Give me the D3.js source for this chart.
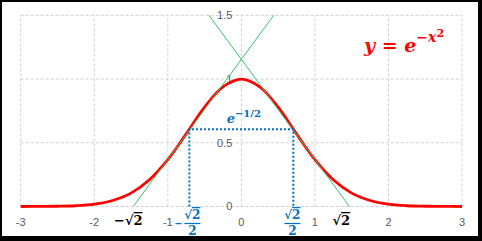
<!DOCTYPE html>
<html lang="en">
<head>
<meta charset="utf-8">
<title>y = e^(-x^2)</title>
<script src="https://d3js.org/d3.v7.min.js"></script>
<style type="text/css">
  body { margin: 0; background: #fff; }
  .grid { stroke: #d3cdd3; stroke-width: 1; stroke-dasharray: 3,2; }
  .tick { font-family: "Liberation Sans", Arial, sans-serif; font-size: 11px; fill: #595959; }
  .curve { fill: none; stroke: #ff0000; stroke-width: 2.8px; }
  .tangent { fill: none; stroke: #3cc070; stroke-width: 1px; }
  .guide { fill: none; stroke: #0070c0; stroke-width: 2px; stroke-dasharray: 2,2; }
  .math { font-family: "DejaVu Serif", "Liberation Serif", serif; font-weight: bold; }
</style>
</head>
<body>
<script type="text/javascript">

// data
var xTicks = [-3, -2, -1, 0, 1, 2, 3];
var yTicks = [0, 0.5, 1, 1.5];
var yTickLabels = ["0", "0.5", "1", "1.5"];

// red curve, values
var curveX = [-3, -2.75, -2.5, -2.25, -2, -1.75, -1.5, -1.25, -1, -0.75, -0.5, -0.25,
              0, 0.25, 0.5, 0.75, 1, 1.25, 1.5, 1.75, 2, 2.25, 2.5, 2.75, 3];
var curveY = [0, 0.001, 0.002, 0.006, 0.018, 0.047, 0.105, 0.21, 0.368, 0.57, 0.779, 0.939,
              1, 0.939, 0.779, 0.57, 0.368, 0.21, 0.105, 0.047, 0.018, 0.006, 0.002, 0.001, 0];

// green lines (tangents at the inflection points)
var tangentLeft = [[-1.47, 0], [0.44, 1.5]];
var tangentRight = [[1.47, 0], [-0.44, 1.5]];

// blue dotted box at x = ±√2/2, y = e^-1/2
var guideX = [-0.707, -0.707, 0.707, 0.707];
var guideY = [0, 0.607, 0.607, 0];

var w = 482, h = 241;

var svg = d3.select("body").append("svg")
  .attr("width", w)
  .attr("height", h);

// frame
svg.append("rect").attr("width", w).attr("height", h).attr("fill", "#000");
svg.append("rect").attr("x", 2).attr("y", 2).attr("width", 476).attr("height", 234).attr("fill", "#fff");

var xScale = d3.scaleLinear().domain([-3, 3]).range([20.7, 462]);
var yScale = d3.scaleLinear().domain([0, 1.5]).range([206.5, 15.3]);

// grid
svg.selectAll("line.vgrid").data(xTicks).enter().append("line")
  .attr("class", "grid")
  .attr("x1", d => xScale(d)).attr("x2", d => xScale(d))
  .attr("y1", yScale(0)).attr("y2", yScale(1.5));

svg.selectAll("line.hgrid").data(yTicks).enter().append("line")
  .attr("class", "grid")
  .attr("x1", xScale(-3)).attr("x2", xScale(3))
  .attr("y1", d => yScale(d)).attr("y2", d => yScale(d));

// tick labels
svg.selectAll("text.ylab").data(yTicks).enter().append("text")
  .attr("class", "tick")
  .attr("x", xScale(0) - 9)
  .attr("y", d => yScale(d))
  .attr("dy", "0.36em")
  .attr("text-anchor", "end")
  .text((d, i) => yTickLabels[i]);

svg.selectAll("text.xlab").data(xTicks).enter().append("text")
  .attr("class", "tick")
  .attr("x", d => xScale(d))
  .attr("y", 226)
  .attr("text-anchor", "middle")
  .text(d => d);

// curve
var lineGen = d3.line()
  .x(d => xScale(d[0]))
  .y(d => yScale(d[1]))
  .curve(d3.curveCatmullRom);

svg.append("path")
  .datum(d3.zip(curveX, curveY))
  .attr("class", "curve")
  .attr("d", lineGen);

var straight = d3.line().x(d => xScale(d[0])).y(d => yScale(d[1]));

svg.append("path").datum(tangentLeft).attr("class", "tangent").attr("d", straight);
svg.append("path").datum(tangentRight).attr("class", "tangent").attr("d", straight);

svg.append("path")
  .datum(d3.zip(guideX, guideY))
  .attr("class", "guide")
  .attr("d", straight);

// formula
var title = svg.append("text")
  .attr("class", "math")
  .attr("x", 364).attr("y", 52)
  .attr("fill", "#ff0000")
  .attr("font-size", 19)
  .attr("font-style", "italic");
title.append("tspan").text("y");
title.append("tspan").attr("font-style", "normal").text(" = ");
title.append("tspan").text("e");
title.append("tspan").attr("font-size", 14).attr("dy", -10).text("\u2212x");
title.append("tspan").attr("font-size", 11).attr("font-style", "normal").attr("dy", -5).text("2");

// e^-1/2 label
var eLab = svg.append("text")
  .attr("class", "math")
  .attr("x", xScale(-0.2)).attr("y", 123)
  .attr("fill", "#0070c0")
  .attr("font-size", 13);
eLab.append("tspan").attr("font-style", "italic").text("e");
eLab.append("tspan").attr("font-size", 10).attr("dy", -6).text("\u22121/2");

// sqrt labels on the x axis
function rootTwo(g, cx, y, color, size) {
  var t = g.append("text")
    .attr("class", "math")
    .attr("x", cx).attr("y", y)
    .attr("text-anchor", "middle")
    .attr("fill", color)
    .attr("font-size", size);
  t.append("tspan").text("\u221a");
  t.append("tspan").attr("text-decoration", "overline").text("2");
  return t;
}

function fraction(cx, color) {
  rootTwo(svg, cx, 219, color, 12);
  svg.append("line")
    .attr("x1", cx - 8).attr("x2", cx + 8)
    .attr("y1", 223.5).attr("y2", 223.5)
    .attr("stroke", color).attr("stroke-width", 1.2);
  svg.append("text")
    .attr("class", "math")
    .attr("x", cx).attr("y", 235)
    .attr("text-anchor", "middle")
    .attr("fill", color)
    .attr("font-size", 12)
    .text("2");
}

// -√2 and √2
var negRoot = rootTwo(svg, xScale(-Math.SQRT2) - 9, 225, "#000", 13);
negRoot.insert("tspan", ":first-child").text("\u2212");
rootTwo(svg, xScale(Math.SQRT2) - 4, 225, "#000", 13);

// -√2/2 and √2/2
fraction(xScale(-Math.SQRT1_2) + 3, "#0070c0");
svg.append("text")
  .attr("class", "math")
  .attr("x", xScale(-Math.SQRT1_2) - 11).attr("y", 227)
  .attr("text-anchor", "middle")
  .attr("fill", "#0070c0")
  .attr("font-size", 10)
  .text("\u2212");
fraction(xScale(Math.SQRT1_2) - 1, "#0070c0");

</script>
</body>
</html>
